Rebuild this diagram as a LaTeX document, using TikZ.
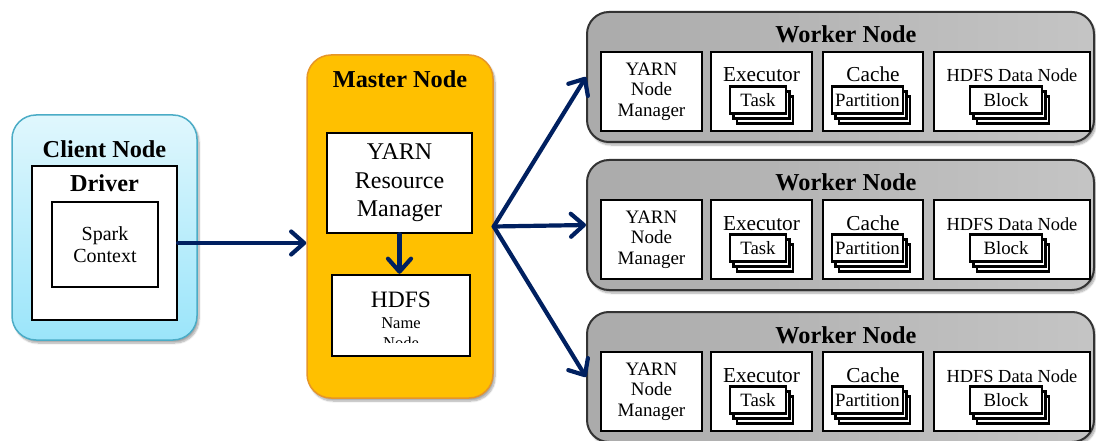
\documentclass[tikz,border=0pt]{standalone}
\usepackage{fontspec}
\setmainfont{Liberation Serif}
\usetikzlibrary{arrows.meta,shadows,shadows.blur}

\definecolor{navy}{RGB}{0,32,96}
\definecolor{skytop}{RGB}{224,247,253}
\definecolor{skybot}{RGB}{155,229,250}
\definecolor{skyline}{RGB}{75,172,198}
\definecolor{amber}{RGB}{255,192,0}
\definecolor{amberline}{RGB}{230,150,40}

\tikzset{
  frame/.style={draw=black, line width=2.4pt, fill=white, inner sep=0pt},
  tile/.style={frame, line width=2.1pt, minimum width=#1, minimum height=27pt,
    font=\fontsize{18.8}{21}\selectfont,
    double copy shadow={shadow xshift=3.5pt, shadow yshift=-5pt}},
  title/.style={font=\bfseries\fontsize{24.3}{28}\selectfont, anchor=base},
  caption/.style={anchor=base, font=\fontsize{21.3}{24}\selectfont},
  soft/.style={blur shadow={shadow xshift=2pt, shadow yshift=-3pt,
    shadow blur steps=8, shadow opacity=35}},
  link/.style={draw=navy, line width=4.2pt, line cap=round,
    -{Straight Barb[length=13pt,width=23pt,round]}},
}

\begin{document}
\begin{tikzpicture}[x=1pt,y=-1pt]
\clip (0,0) rectangle (1096,441);

% client side
\node[soft, draw=skyline, line width=1.5pt, rounded corners=24pt,
  top color=skytop, bottom color=skybot,
  minimum width=185pt, minimum height=225pt] (client) at (104.5,227.5) {};
\node[title] (clienttitle) at (104.5,158) {Client Node};
\node[frame, minimum width=145pt, minimum height=154pt] (driver) at (104.5,243) {};
\node[title] (drivertitle) at (104.5,192) {Driver};
\node[frame, minimum width=106pt, minimum height=85pt, align=center,
  font=\fontsize{20}{22}\selectfont] (spark) at (105,244.5) {Spark\\Context};

% master
\node[soft, draw=amberline, line width=1.5pt, rounded corners=24pt, fill=amber,
  minimum width=186pt, minimum height=343pt] (master) at (400,226.5) {};
\node[title] (mastertitle) at (400,88) {Master Node};
\node[frame, minimum width=145pt, minimum height=100pt, align=center,
  font=\fontsize{24}{28.5}\selectfont] (rm) at (399.5,183) {YARN\\Resource\\Manager};
\node[frame, minimum width=138pt, minimum height=81pt] (hdfs) at (401,315.5) {};
\begin{scope}
\clip (333,276) rectangle (469,342.5);
\node[anchor=base, font=\fontsize{23.5}{28}\selectfont] (hdfstext) at (401,307) {HDFS};
\node[anchor=base, font=\fontsize{16.5}{19}\selectfont] (nametext) at (401,328) {Name};
\node[anchor=base, font=\fontsize{16.5}{19}\selectfont] (nodetext) at (401,348) {Node};
\end{scope}

% workers
\foreach \w/\dy in {1/0,2/148,3/300}{
\begin{scope}[shift={(0,\dy)}]
\node[soft, draw=black!80, line width=2pt, rounded corners=22pt,
  left color=black!33, right color=black!23,
  minimum width=507pt, minimum height=130pt] (worker\w) at (840.5,77) {};
\node[title] (wtitle\w) at (846,43) {Worker Node};
\node[frame, minimum width=101pt, minimum height=79pt, align=center,
  font=\fontsize{19}{20.5}\selectfont] (nm\w) at (651.5,91.5) {YARN\\Node\\Manager};
\node[frame, minimum width=101pt, minimum height=79pt] (exec\w) at (761.5,91.5) {};
\node[caption] (exectext\w) at (761.5,82) {Executor};
\node[tile=56pt] (task\w) at (758,100) {Task};
\node[frame, minimum width=100pt, minimum height=79pt] (cache\w) at (873,91.5) {};
\node[caption] (cachetext\w) at (873,82) {Cache};
\node[tile=71pt] (part\w) at (867.5,100) {Partition};
\node[frame, minimum width=156pt, minimum height=79pt] (dn\w) at (1012,91.5) {};
\node[caption, font=\fontsize{18.4}{20}\selectfont] (dntext\w) at (1012,82) {HDFS Data Node};
\node[tile=72pt] (block\w) at (1006,100) {Block};
\end{scope}
}

% connections
\draw[link] (driver.east) -- (driver.east -| master.west);
\draw[link] (rm.south) -- (rm.south |- hdfs.north);
\foreach \w in {1,2,3}
  \draw[link] (master.east) -- (worker\w.west);
\end{tikzpicture}
\end{document}
